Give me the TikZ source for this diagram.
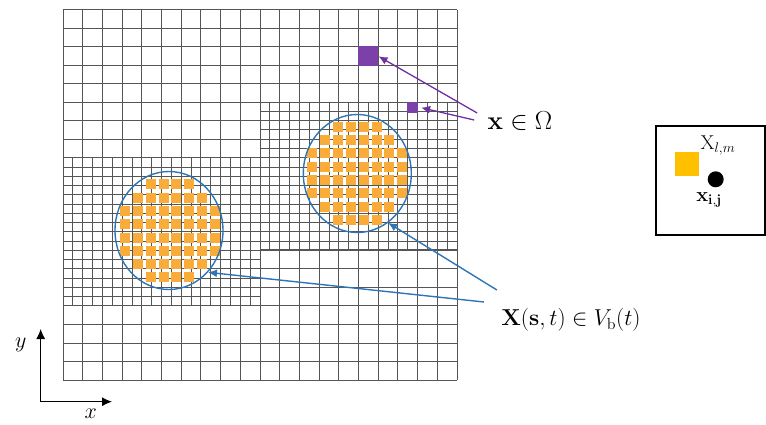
\RequirePackage{fix-cm}
\documentclass[tikz,border=0pt]{standalone}
\usepackage{amsmath,amssymb,bm}
\usepackage{tikz}
\usetikzlibrary{arrows.meta,positioning,calc,shapes.geometric}
\usepackage{xcolor}
\definecolor{cellorange}{RGB}{249,172,58}
\definecolor{boxgold}{RGB}{255,192,0}
\definecolor{ompurple}{RGB}{112,48,160}
\definecolor{bndblue}{RGB}{46,117,182}
\definecolor{gridgray}{RGB}{85,85,85}
\tikzset{
  gridline/.style={gridgray, line width=0.9pt},
  omsq/.style={fill=ompurple!92, inner sep=0pt, minimum size=#1},
  bubble/.style={ellipse, draw=bndblue, line width=1.4pt, inner sep=0pt,
    minimum width=108pt, minimum height=118pt},
  omarrow/.style={ompurple, line width=1.3pt, -{Latex[length=9pt,width=8pt]}},
  bndarrow/.style={bndblue, line width=1.4pt, -{Latex[length=9pt,width=8pt]}},
  axisarrow/.style={line width=0.9pt, -{Latex[length=10pt,width=9pt]}}
}

\begin{document}
\begin{tikzpicture}[x=1pt,y=-1pt]
  \useasboundingbox (0,0) rectangle (766,424);
  % coarse mesh, 20 x 20 cells, with two refined patches
  \begin{scope}[shift={(63,9.5)},x=19.7pt,y=-18.525pt,gridline]
    \foreach \i in {0,...,20} \draw (\i,0) -- (\i,20);
    \foreach \j in {0,...,20} \draw (0,\j) -- (20,\j);
    \foreach \i in {0,0.5,...,10} \draw (\i,8) -- (\i,16);
    \foreach \j in {8,8.5,...,16} \draw (0,\j) -- (10,\j);
    \foreach \i in {10,10.5,...,20} \draw (\i,5) -- (\i,13);
    \foreach \j in {5,5.5,...,13} \draw (10,\j) -- (20,\j);
    \draw[line width=1.8pt] (10,13) -- (20,13);
  \end{scope}

  % material points inside the two bodies
  \foreach \cx/\cy in {170/230.9,357.3/173.25}
    \foreach \j/\a/\b in {0/2/5,1/1/6,2/0/7,3/0/7,4/0/7,5/0/7,6/1/6,7/2/5}
      \foreach \i in {\a,...,\b}
        \fill[cellorange] ({\cx+(\i-3.5)*12.85-5},{\cy+(\j-3.5)*13.3-5}) rectangle ++(10,10);
  \node[bubble] (lbub) at (169,230.5) {};
  \node[bubble] (rbub) at (357.3,173.5) {};

  % mesh cells
  \node[omsq=20pt] (bigx) at (368.3,56.3) {};
  \node[omsq=11pt] (smallx) at (412.5,107) {};

  \node[font=\fontsize{26}{30}\selectfont] (xom) at (520,121) {$\mathbf{x}\in\Omega$};
  \draw[omarrow] ([shift={(-7pt,8pt)}]xom.west) -- (bigx.east);
  \draw[omarrow, shorten >=3pt] ([shift={(-10pt,1pt)}]xom.west) -- (smallx.east);

  \node[font=\fontsize{23}{27}\selectfont] (vb) at (571,320)
    {$\mathbf{X}(\mathbf{s},t)\in V_{\mathrm{b}}(t)$};
  \draw[bndarrow] ([shift={(-1pt,15pt)}]vb.north west) -- (rbub.-58);
  \draw[bndarrow] ([shift={(-14pt,3pt)}]vb.north west) -- (lbub.-47);

  % legend
  \node[draw, line width=1.3pt, inner sep=0pt, minimum size=109pt] (legend) at (710.5,180.5) {};
  \node[fill=boxgold, inner sep=0pt, minimum size=24pt] (cellsq) at (687,164) {};
  \node[circle, fill=black, inner sep=0pt, minimum size=16pt] (ptdot) at (715.7,179.3) {};
  \node[font=\fontsize{20}{23}\selectfont] (cellname) at (718,146) {$\mathrm{X}_{l,m}$};
  \node[font=\fontsize{20}{23}\selectfont] (ptname) at (709,200) {$\mathbf{x}_{\mathbf{i},\mathbf{j}}$};

  % axes
  \coordinate (o) at (40.7,401.7);
  \coordinate (yend) at (40.7,329);
  \coordinate (xend) at (112,401.7);
  \draw[axisarrow] (o) -- (yend);
  \draw[axisarrow] (o) -- (xend);
  \node[font=\fontsize{22}{26}\selectfont] (ylab) at (20.7,345) {$y$};
  \node[font=\fontsize{22}{26}\selectfont] (xlab) at (90.7,414) {$x$};
\end{tikzpicture}
\end{document}
